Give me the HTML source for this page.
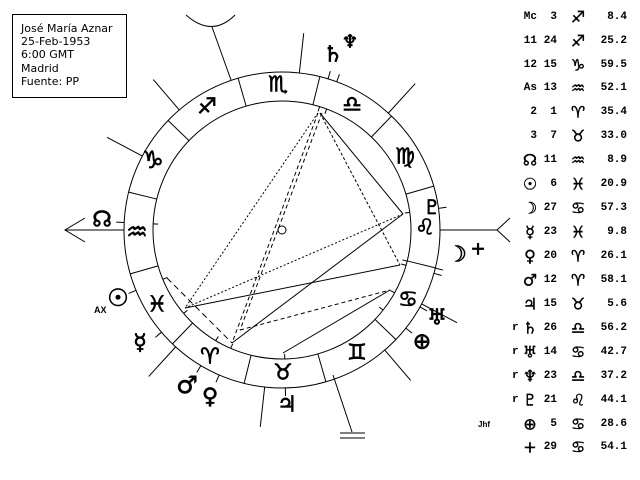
<!DOCTYPE html>
<html><head><meta charset="utf-8"><style>
body{margin:0;background:#fff;width:640px;height:480px;overflow:hidden}
svg{position:absolute;left:0;top:0}
.g{font-family:"DejaVu Sans",sans-serif;fill:#000;stroke:#000;stroke-width:0.7;text-anchor:middle;dominant-baseline:central}
.t{font-family:"Liberation Mono","DejaVu Sans Mono",monospace;font-weight:bold;font-size:11px;fill:#000;dominant-baseline:central}
.b{font-family:"DejaVu Sans",sans-serif;font-size:11px;fill:#000}
.h .g{font-size:16px;stroke-width:0.4}
</style></head><body>
<svg id="s" width="640" height="480" viewBox="0 0 640 480" stroke="#000" fill="none" stroke-width="1">
<rect x="12.5" y="14.5" width="114" height="83"/>
<g stroke="none">
<text class="b" x="21" y="32">José María Aznar</text>
<text class="b" x="21" y="45">25-Feb-1953</text>
<text class="b" x="21" y="58">6:00 GMT</text>
<text class="b" x="21" y="72">Madrid</text>
<text class="b" x="21" y="85">Fuente: PP</text>
</g>
<circle cx="282" cy="230" r="158"/>
<circle cx="282" cy="230" r="129"/>
<circle cx="282" cy="230" r="4"/>
<g id="L"></g>
<line x1="65" y1="230" x2="124" y2="230"/>
<polyline points="85,218 65,230 85,242"/>
<line x1="440" y1="230" x2="497" y2="230"/>
<polyline points="510,218 497,230 510,242"/>
<line x1="212" y1="27" x2="231" y2="80"/>
<path d="M186,15 Q212,38 235,15"/>
<line x1="333" y1="375" x2="352" y2="432"/>
<line x1="340" y1="433" x2="365" y2="433"/><line x1="340" y1="438" x2="365" y2="438"/>
<line x1="320" y1="113" x2="403" y2="214"/>
<line x1="403" y1="214" x2="185" y2="308" stroke-dasharray="2,2"/>
<line x1="185" y1="308" x2="400" y2="265"/>
<line x1="320" y1="113" x2="400" y2="265" stroke-dasharray="3,2"/>
<line x1="232" y1="343" x2="403" y2="214"/>
<line x1="283" y1="353" x2="390" y2="290"/>
<line x1="240" y1="330" x2="390" y2="290" stroke-dasharray="4,3"/>
<line x1="318" y1="113" x2="232" y2="343" stroke-dasharray="4,3"/>
<line x1="322" y1="113" x2="240" y2="330" stroke-dasharray="4,3"/>
<line x1="318" y1="113" x2="185" y2="308" stroke-dasharray="2,2"/>
<line x1="167" y1="278" x2="232" y2="343" stroke-dasharray="6,4"/>
<g>
<text class="g" x="278" y="85" font-size="22">♏</text>
<text class="g" x="352" y="105" font-size="22">♎</text>
<text class="g" x="405" y="157" font-size="22">♍</text>
<text class="g" x="425" y="228" font-size="22">♌</text>
<text class="g" x="408" y="300" font-size="22">♋</text>
<text class="g" x="357" y="353" font-size="22">♊</text>
<text class="g" x="283" y="373" font-size="22">♉</text>
<text class="g" x="210" y="357" font-size="22">♈</text>
<text class="g" x="157" y="305" font-size="22">♓</text>
<text class="g" x="137" y="232" font-size="24">♒</text>
<text class="g" x="153" y="160" font-size="24">♑</text>
<text class="g" x="207" y="107" font-size="22">♐</text>
<text class="g" x="333" y="55" font-size="22">♄</text>
<text class="g" x="350" y="42" font-size="18">♆</text>
<text class="g" x="432" y="207" font-size="20">♇</text>
<text class="g" x="457" y="255" font-size="22">☽</text>
<text class="g" x="478" y="249" font-size="18">+</text>
<text class="g" x="437" y="318" font-size="22">♅</text>
<text class="g" x="422" y="342" font-size="22">⊕</text>
<text class="g" x="102" y="220" font-size="22">☊</text>
<text class="g" x="118" y="298" font-size="24">☉</text>
<text class="g" x="140" y="343" font-size="22">☿</text>
<text class="g" x="187" y="385" font-size="24">♂</text>
<text class="g" x="210" y="397" font-size="22">♀</text>
<text class="g" x="287" y="405" font-size="22">♃</text>
</g>
<g stroke="none">
<text x="94" y="313" font-family="Liberation Sans" font-weight="bold" font-size="9" fill="#000">AX</text>
<text x="478" y="427" font-family="Liberation Sans" font-weight="bold" font-size="8" fill="#000">Jhf</text>
</g>
</svg>
<script>
var L=document.getElementById('L'),cx=282,cy=230,NS='http://www.w3.org/2000/svg';
function ln(th,r1,r2){var a=th*Math.PI/180,c=Math.cos(a),s=Math.sin(a),e=document.createElementNS(NS,'line');
e.setAttribute('x1',cx+r1*c);e.setAttribute('y1',cy-r1*s);e.setAttribute('x2',cx+r2*c);e.setAttribute('y2',cy-r2*s);L.appendChild(e);}
for(var i=0;i<12;i++)ln(i*30-133.87,129,158);
[ -132.3,-96.3,-49.45,-27.9,47.7,83.7,130.55,152.1].forEach(function(t){ln(t,158,198);});
[202.48,-15.91,220.3,-113.43,-120.9,-88.78,73.06,-29.16,69.75,7.87,177.28,-38.39,-13.97].forEach(function(t){ln(t,158,166);ln(t,129,124);});
</script>
<svg width="640" height="480" style="pointer-events:none">
<g class="h">
<text class="t" x="537" y="17" text-anchor="end">Mc</text><text class="t" x="557" y="17" text-anchor="end">3</text><text class="g" x="578" y="17">♐</text><text class="t" x="627" y="17" text-anchor="end">8.4</text>
<text class="t" x="537" y="41" text-anchor="end">11</text><text class="t" x="557" y="41" text-anchor="end">24</text><text class="g" x="578" y="41">♐</text><text class="t" x="627" y="41" text-anchor="end">25.2</text>
<text class="t" x="537" y="65" text-anchor="end">12</text><text class="t" x="557" y="65" text-anchor="end">15</text><text class="g" x="578" y="65">♑</text><text class="t" x="627" y="65" text-anchor="end">59.5</text>
<text class="t" x="537" y="88" text-anchor="end">As</text><text class="t" x="557" y="88" text-anchor="end">13</text><text class="g" x="578" y="88">♒</text><text class="t" x="627" y="88" text-anchor="end">52.1</text>
<text class="t" x="537" y="112" text-anchor="end">2</text><text class="t" x="557" y="112" text-anchor="end">1</text><text class="g" x="578" y="112">♈</text><text class="t" x="627" y="112" text-anchor="end">35.4</text>
<text class="t" x="537" y="136" text-anchor="end">3</text><text class="t" x="557" y="136" text-anchor="end">7</text><text class="g" x="578" y="136">♉</text><text class="t" x="627" y="136" text-anchor="end">33.0</text>
<text class="g" x="530" y="160">☊</text><text class="t" x="557" y="160" text-anchor="end">11</text><text class="g" x="578" y="160">♒</text><text class="t" x="627" y="160" text-anchor="end">8.9</text>
<text class="g" x="530" y="184">☉</text><text class="t" x="557" y="184" text-anchor="end">6</text><text class="g" x="578" y="184">♓</text><text class="t" x="627" y="184" text-anchor="end">20.9</text>
<text class="g" x="530" y="208">☽</text><text class="t" x="557" y="208" text-anchor="end">27</text><text class="g" x="578" y="208">♋</text><text class="t" x="627" y="208" text-anchor="end">57.3</text>
<text class="g" x="530" y="232">☿</text><text class="t" x="557" y="232" text-anchor="end">23</text><text class="g" x="578" y="232">♓</text><text class="t" x="627" y="232" text-anchor="end">9.8</text>
<text class="g" x="530" y="256">♀</text><text class="t" x="557" y="256" text-anchor="end">20</text><text class="g" x="578" y="256">♈</text><text class="t" x="627" y="256" text-anchor="end">26.1</text>
<text class="g" x="530" y="280">♂</text><text class="t" x="557" y="280" text-anchor="end">12</text><text class="g" x="578" y="280">♈</text><text class="t" x="627" y="280" text-anchor="end">58.1</text>
<text class="g" x="530" y="304">♃</text><text class="t" x="557" y="304" text-anchor="end">15</text><text class="g" x="578" y="304">♉</text><text class="t" x="627" y="304" text-anchor="end">5.6</text>
<text class="t" x="512" y="328">r</text><text class="g" x="530" y="328">♄</text><text class="t" x="557" y="328" text-anchor="end">26</text><text class="g" x="578" y="328">♎</text><text class="t" x="627" y="328" text-anchor="end">56.2</text>
<text class="t" x="512" y="352">r</text><text class="g" x="530" y="352">♅</text><text class="t" x="557" y="352" text-anchor="end">14</text><text class="g" x="578" y="352">♋</text><text class="t" x="627" y="352" text-anchor="end">42.7</text>
<text class="t" x="512" y="376">r</text><text class="g" x="530" y="376">♆</text><text class="t" x="557" y="376" text-anchor="end">23</text><text class="g" x="578" y="376">♎</text><text class="t" x="627" y="376" text-anchor="end">37.2</text>
<text class="t" x="512" y="400">r</text><text class="g" x="530" y="400">♇</text><text class="t" x="557" y="400" text-anchor="end">21</text><text class="g" x="578" y="400">♌</text><text class="t" x="627" y="400" text-anchor="end">44.1</text>
<text class="g" x="530" y="424">⊕</text><text class="t" x="557" y="424" text-anchor="end">5</text><text class="g" x="578" y="424">♋</text><text class="t" x="627" y="424" text-anchor="end">28.6</text>
<text class="g" x="530" y="447">+</text><text class="t" x="557" y="447" text-anchor="end">29</text><text class="g" x="578" y="447">♋</text><text class="t" x="627" y="447" text-anchor="end">54.1</text>
</g>
</svg>
</body></html>
